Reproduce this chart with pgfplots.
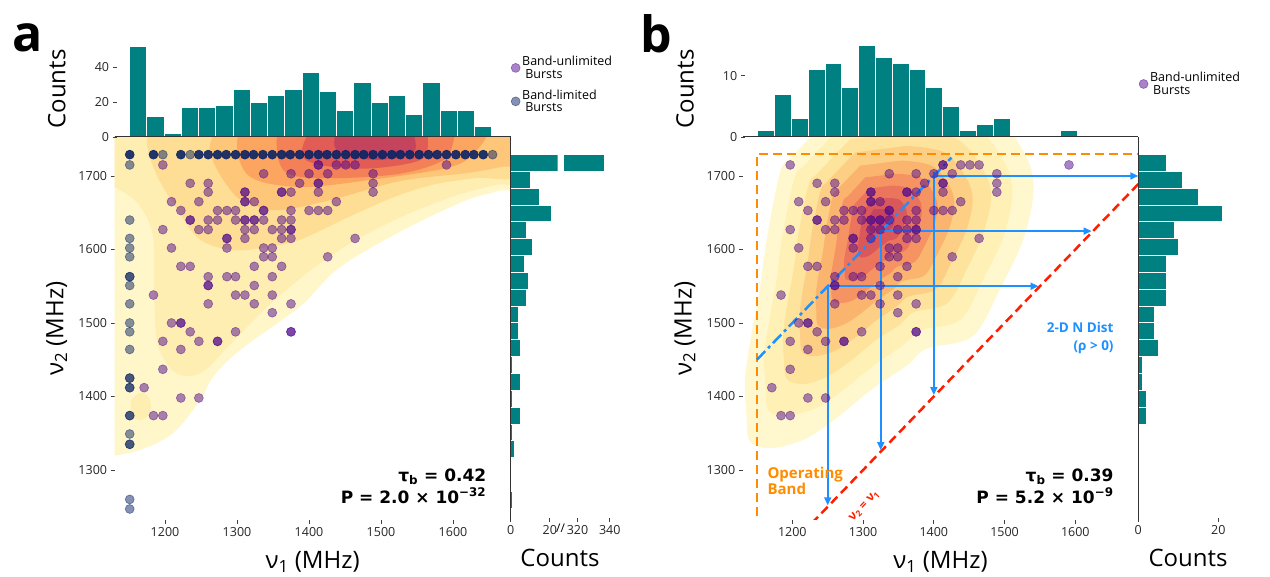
\documentclass[border=0pt]{standalone}
\usepackage{fontspec}
\setmainfont{Open Sans}
\newfontfamily\djv{DejaVu Sans}
\usepackage{pgfplots}
\usepackage{pgfplotstable}
\pgfplotsset{compat=1.18}
\usetikzlibrary{arrows.meta}

\definecolor{histc}{RGB}{0,128,128}
\definecolor{unl}{RGB}{80,10,140}
\definecolor{lim}{RGB}{10,35,100}
\definecolor{band}{RGB}{255,140,0}
\definecolor{diag}{RGB}{255,30,0}
\definecolor{dodger}{RGB}{30,144,255}
% kde levels, panel a
\definecolor{ka1}{RGB}{255,247,202}
\definecolor{ka2}{RGB}{255,238,178}
\definecolor{ka3}{RGB}{254,222,148}
\definecolor{ka4}{RGB}{253,198,120}
\definecolor{ka5}{RGB}{251,165,97}
\definecolor{ka6}{RGB}{243,128,86}
\definecolor{ka7}{RGB}{225,92,84}
\definecolor{ka8}{RGB}{196,68,94}
% kde levels, panel b
\definecolor{kb1}{RGB}{255,248,206}
\definecolor{kb2}{RGB}{255,240,182}
\definecolor{kb3}{RGB}{254,227,157}
\definecolor{kb4}{RGB}{253,207,132}
\definecolor{kb5}{RGB}{251,180,110}
\definecolor{kb6}{RGB}{246,147,98}
\definecolor{kb7}{RGB}{235,116,92}
\definecolor{kb8}{RGB}{218,88,90}
\definecolor{kb9}{RGB}{198,68,96}

\newcommand{\fs}[1]{\fontsize{#1bp}{#1bp}\selectfont}

% band-unlimited bursts (nu1, nu2), repeated rows = overlapping bursts
\pgfplotstableread{
x y
1197 1715
1413 1715
1413 1715
1438 1715
1451 1715
1464 1715
1591 1715
1337 1703
1375 1703
1400 1703
1426 1703
1489 1703
1235 1690
1260 1690
1387 1690
1413 1690
1413 1690
1489 1690
1260 1678
1311 1678
1311 1678
1362 1678
1362 1678
1375 1678
1413 1678
1489 1678
1209 1665
1247 1665
1311 1665
1311 1665
1324 1665
1438 1665
1222 1653
1273 1653
1286 1653
1298 1653
1337 1653
1337 1653
1375 1653
1400 1653
1413 1653
1426 1653
1235 1640
1235 1640
1260 1640
1273 1640
1298 1640
1311 1640
1311 1640
1324 1640
1324 1640
1337 1640
1362 1640
1375 1640
1197 1627
1247 1627
1260 1627
1311 1627
1324 1627
1349 1627
1362 1627
1375 1627
1375 1627
1286 1615
1286 1615
1311 1615
1362 1615
1375 1615
1464 1615
1209 1602
1286 1602
1337 1602
1349 1602
1337 1590
1349 1590
1426 1590
1222 1577
1235 1577
1324 1577
1362 1577
1260 1563
1286 1563
1298 1563
1349 1563
1260 1551
1260 1551
1324 1551
1184 1538
1298 1538
1311 1538
1349 1538
1260 1526
1324 1526
1375 1526
1349 1514
1209 1500
1222 1500
1222 1500
1235 1488
1298 1488
1375 1488
1375 1488
1197 1475
1247 1475
1273 1475
1273 1475
1222 1464
1197 1437
1171 1412
1222 1398
1247 1398
1184 1374
1197 1374
}\unltab

% band-limited bursts
\pgfplotstableread{
x y
1151 1715
1151 1640
1151 1615
1151 1602
1151 1590
1151 1563
1151 1563
1151 1551
1151 1526
1151 1500
1151 1488
1151 1464
1151 1425
1151 1425
1151 1412
1151 1412
1151 1374
1151 1374
1151 1349
1151 1335
1151 1335
1151 1260
1151 1247
1197 1729
1235 1729
1655 1729
}\limtab

% band-limited bursts stacked at the top of the band
\pgfplotstableread{
x y
1151 1729
1184 1729
1222 1729
1247 1729
1260 1729
1273 1729
1285 1729
1298 1729
1311 1729
1323 1729
1336 1729
1349 1729
1362 1729
1374 1729
1387 1729
1400 1729
1413 1729
1425 1729
1438 1729
1451 1729
1464 1729
1476 1729
1489 1729
1502 1729
1515 1729
1527 1729
1540 1729
1553 1729
1566 1729
1578 1729
1591 1729
1604 1729
1617 1729
1629 1729
1642 1729
}\densetab

\pgfplotsset{
  every axis/.append style={
    scale only axis,
    /pgf/number format/assume math mode=true,
    /pgf/number format/1000 sep={},
    tick label style={font=\fs{12.5}, text=black!85},
    tick style={black!75, line width=0.8bp},
    major tick length=4bp,
    tick align=outside,
    label style={font=\fs{24}},
  },
  mainax/.style={
    height=383bp, ymin=1232, ymax=1753, xmin=1130,
    axis line style={draw=none}, xtick pos=left, ytick pos=left,
    xtick={1200,1300,1400,1500,1600}, ytick={1300,1400,1500,1600,1700},
    xlabel={ν\textsubscript{1} (MHz)}, ylabel={ν\textsubscript{2} (MHz)},
    xlabel style={at={(axis description cs:0.5,-0.11)}, anchor=center},
    ylabel style={at={(axis description cs:-0.146,0.5)}, anchor=center},
    legend cell align=left,
    legend style={draw=none, fill=none, anchor=north west, font=\fs{12.5},
      cells={align=left}, row sep=6bp,
      /tikz/every even column/.append style={column sep=8bp}},
  },
  tophist/.style={
    height=96bp, ymin=0, axis on top,
    axis x line=bottom, axis y line=left,
    x axis line style={-, line width=1bp, black!80},
    y axis line style={draw=none},
    xtick=\empty, ylabel={Counts},
    ylabel style={at={(axis description cs:-0.146,0.5)}, anchor=center},
  },
  sidehist/.style={
    height=383bp, ymin=1232, ymax=1753, axis on top,
    axis x line=bottom, axis y line=left,
    x axis line style={draw=none},
    y axis line style={-, line width=1bp, black!80},
    ytick=\empty,
  },
  kde/.style={fill=#1, draw=none, forget plot, smooth, tension=0.55},
  unlsty/.style={only marks, mark=*, mark size=4.5bp, color=unl, mark options={fill=unl, draw=unl, line width=0.6bp, opacity=0.5}},
  limsty/.style={only marks, mark=*, mark size=4.5bp, color=lim, mark options={fill=lim, draw=lim, line width=0.6bp, opacity=0.5}},
  densesty/.style={only marks, mark=*, mark size=4.5bp, color=lim, mark options={fill=lim, draw=lim, line width=0.6bp, opacity=0.9}},
  hbar/.style={fill=histc, draw=white, line width=1bp},
  arr/.style={dodger, line width=1.6bp, -{Triangle[length=8bp,width=7bp]}, forget plot},
}

\begin{document}
\begin{tikzpicture}
\path[use as bounding box] (0,0) rectangle (1270bp,577bp);

% ================= panel a =================
\begin{axis}[mainax, at={(114.6bp,57bp)}, anchor=south west, width=396bp, xmax=1680,
  legend style={at={(0.9934,1.222)}}]
\addplot[kde=ka1] coordinates {(1120,1318) (1165,1327) (1211,1350) (1249,1395) (1267,1427) (1304,1463) (1387,1522) (1433,1568) (1480,1599) (1550,1636) (1619,1667) (1665,1680) (1700,1690) (1700,1800) (1120,1800)};
\addplot[kde=ka2] coordinates {(1120,1690) (1160,1665) (1183,1620) (1185,1540) (1190,1470) (1215,1432) (1250,1432) (1290,1470) (1340,1520) (1400,1570) (1460,1610) (1530,1645) (1600,1672) (1660,1688) (1700,1696) (1700,1800) (1120,1800)};
\addplot[kde=ka2] coordinates {(1152,1372) (1168,1368) (1180,1380) (1178,1398) (1165,1405) (1153,1395)};
\addplot[kde=ka3] coordinates {(1180,1800) (1175,1745) (1189,1700) (1220,1650) (1249,1613) (1294,1599) (1340,1603) (1387,1613) (1457,1645) (1520,1672) (1572,1688) (1630,1697) (1700,1704) (1700,1800)};
\addplot[kde=ka4] coordinates {(1300,1800) (1262,1740) (1294,1677) (1330,1658) (1364,1654) (1433,1668) (1526,1693) (1619,1704) (1665,1712) (1700,1722) (1700,1800)};
\addplot[kde=ka5] coordinates {(1320,1800) (1300,1745) (1318,1699) (1387,1685) (1480,1694) (1596,1712) (1633,1735) (1655,1770) (1660,1800)};
\addplot[kde=ka6] coordinates {(1365,1800) (1355,1745) (1369,1704) (1433,1697) (1526,1703) (1586,1721) (1600,1745) (1610,1800)};
\addplot[kde=ka7] coordinates {(1420,1800) (1390,1735) (1411,1716) (1480,1710) (1550,1720) (1565,1740) (1560,1800)};
\addplot[kde=ka8] coordinates {(1450,1800) (1435,1745) (1452,1728) (1500,1722) (1545,1732) (1545,1760) (1535,1800)};

\addplot[unlsty] table {\unltab};
\addlegendentry{Band-unlimited\\\hspace{0.25em}Bursts}
\addplot[limsty] table {\limtab};
\addlegendentry{Band-limited\\\hspace{0.25em}Bursts}
\addplot[densesty, forget plot] table {\densetab};

\node[anchor=base east, font=\djv\bfseries\fs{17}] at (axis cs:1651,1284) {τ\textsubscript{b} = 0.42};
\node[anchor=base east, font=\djv\bfseries\fs{17}] at (axis cs:1651,1255) {P = 2.0 × 10\textsuperscript{−32}};
\end{axis}

\begin{axis}[tophist, at={(114.6bp,440bp)}, anchor=south west, width=396bp,
  xmin=1130, xmax=1680, ymax=55, ytick={0,20,40}]
\addplot[hbar, ybar interval] coordinates {(1151,52) (1174.95,12) (1198.9,2) (1222.86,17) (1246.81,17) (1270.76,18) (1294.71,27) (1318.67,20) (1342.62,24) (1366.57,27) (1390.52,37) (1414.47,26) (1438.43,15) (1462.38,31) (1486.33,20) (1510.28,24) (1534.24,13) (1558.19,31) (1582.14,15) (1606.09,15) (1630.05,6) (1654,6)};
\end{axis}

% broken count axis: 0-24 and 311-342
\begin{axis}[sidehist, at={(510.6bp,57bp)}, anchor=south west, width=47bp,
  xmin=0, xmax=24, xtick={0,20}]
\addplot[hbar, xbar interval] coordinates {(1,1248) (0,1270.9) (0,1293.8) (2,1316.7) (1,1339.6) (5,1362.5) (1,1385.4) (5,1408.3) (1,1431.2) (5,1454.1) (4,1477) (4,1500) (8,1522.9) (9,1545.8) (7,1568.7) (11,1591.6) (8,1614.5) (21,1637.4) (15,1660.3) (10,1683.2) (337,1706.1) (337,1729)};
\end{axis}
\begin{axis}[sidehist, at={(563bp,57bp)}, anchor=south west, width=50bp,
  xmin=311, xmax=342, xtick={320,340}, y axis line style={draw=none}]
\addplot[hbar, xbar interval] coordinates {(10,1683.2) (337,1706.1) (337,1729)};
\end{axis}
\node[font=\fs{12}] at (560.5bp,49bp) {//};
\node[font=\fs{24}] at (560bp,19bp) {Counts};
\node[anchor=base west, font=\bfseries\fs{50}] at (9bp,525bp) {a};

% ================= panel b =================
\begin{axis}[mainax, at={(742.8bp,57bp)}, anchor=south west, width=395.5bp, xmax=1689,
  legend style={at={(0.994,1.18)}}]
\addplot[kde=kb1] coordinates {(1265,1792) (1200,1727) (1183,1706) (1164,1615) (1154,1547) (1140,1472) (1133,1422) (1135,1379) (1140,1339) (1173,1330) (1220,1343) (1267,1374) (1314,1411) (1362,1442) (1390,1465) (1455,1482) (1494,1547) (1527,1615) (1541,1683) (1527,1733) (1475,1792) (1385,1807)};
\addplot[kde=kb2] coordinates {(1273,1771) (1217,1715) (1203,1697) (1186,1619) (1178,1560) (1166,1496) (1160,1453) (1162,1416) (1166,1381) (1194,1374) (1235,1385) (1275,1411) (1316,1443) (1357,1470) (1381,1490) (1437,1504) (1470,1560) (1499,1619) (1511,1677) (1499,1720) (1454,1771) (1377,1784)};
\addplot[kde=kb3] coordinates {(1282,1750) (1235,1703) (1223,1688) (1209,1623) (1202,1574) (1192,1520) (1187,1484) (1188,1453) (1192,1424) (1216,1417) (1249,1427) (1283,1449) (1317,1476) (1352,1498) (1372,1515) (1419,1527) (1447,1574) (1470,1623) (1481,1672) (1470,1708) (1433,1750) (1368,1761)};
\addplot[kde=kb4] coordinates {(1289,1732) (1250,1693) (1240,1680) (1228,1626) (1222,1585) (1214,1540) (1210,1510) (1211,1484) (1214,1460) (1234,1455) (1262,1463) (1290,1481) (1318,1503) (1347,1522) (1364,1536) (1403,1546) (1426,1585) (1446,1626) (1455,1667) (1446,1697) (1415,1732) (1361,1741)};
\addplot[kde=kb5] coordinates {(1296,1714) (1265,1683) (1257,1673) (1248,1629) (1243,1596) (1236,1560) (1233,1536) (1234,1516) (1236,1497) (1252,1492) (1275,1499) (1297,1513) (1320,1531) (1343,1546) (1356,1557) (1387,1565) (1406,1596) (1422,1629) (1429,1662) (1422,1686) (1397,1714) (1354,1721)};
\addplot[kde=kb6] coordinates {(1303,1698) (1279,1673) (1272,1666) (1265,1632) (1262,1607) (1257,1579) (1254,1561) (1255,1545) (1257,1530) (1269,1527) (1286,1531) (1304,1543) (1321,1557) (1339,1568) (1349,1577) (1373,1583) (1388,1607) (1400,1632) (1405,1657) (1400,1676) (1381,1698) (1347,1703)};
\addplot[kde=kb7] coordinates {(1309,1683) (1291,1665) (1287,1659) (1282,1635) (1279,1616) (1275,1596) (1273,1583) (1274,1571) (1275,1560) (1284,1558) (1297,1561) (1309,1570) (1322,1580) (1335,1588) (1343,1594) (1360,1599) (1371,1616) (1380,1635) (1383,1653) (1380,1667) (1366,1683) (1341,1687)};
\addplot[kde=kb8] coordinates {(1315,1668) (1304,1657) (1301,1653) (1298,1637) (1296,1626) (1294,1613) (1292,1605) (1293,1597) (1294,1591) (1299,1589) (1307,1591) (1315,1596) (1323,1603) (1331,1608) (1336,1612) (1347,1615) (1354,1626) (1359,1637) (1362,1649) (1359,1658) (1351,1668) (1335,1670)};
\addplot[kde=kb9] coordinates {(1315,1655) (1308,1640) (1310,1625) (1325,1621) (1340,1629) (1345,1644) (1335,1655)};

\addplot[unlsty] table {\unltab};
\addlegendentry{Band-unlimited\\\hspace{0.25em}Bursts}

% operating band, identity line, 2-D normal construction
\addplot[band, line width=2.5bp, dash pattern=on 9bp off 5bp, forget plot] coordinates {(1150,1200) (1150,1730) (1700,1730)};
\addplot[diag, line width=2.5bp, dash pattern=on 9bp off 5bp, forget plot] coordinates {(1200,1200) (1700,1700)};
\addplot[dodger, line width=2.5bp, dash pattern=on 12bp off 4bp on 3bp off 4bp, forget plot] coordinates {(1150,1450) (1425,1725)};
\addplot[arr] coordinates {(1250,1550) (1250,1252)};
\addplot[arr] coordinates {(1250,1550) (1548,1550)};
\addplot[arr] coordinates {(1325,1625) (1325,1327)};
\addplot[arr] coordinates {(1325,1625) (1623,1625)};
\addplot[arr] coordinates {(1400,1706) (1400,1402)};
\addplot[arr] coordinates {(1400,1700) (1689,1700)};

\node[anchor=base east, text=dodger, font=\bfseries\fs{13.5}] at (axis cs:1659,1487) {2-D N Dist};
\node[anchor=base east, text=dodger, font=\bfseries\fs{13.5}] at (axis cs:1659,1463) {(ρ > 0)};
\node[anchor=base west, text=band, font=\bfseries\fs{15}] at (axis cs:1160,1289) {Operating};
\node[anchor=base west, text=band, font=\bfseries\fs{15}] at (axis cs:1160,1267) {Band};
\node[rotate=46, text=diag, font=\bfseries\fs{12}, inner sep=0pt] at (axis cs:1302,1251) {ν\textsubscript{2} = ν\textsubscript{1}};
\node[anchor=base east, font=\djv\bfseries\fs{17}] at (axis cs:1659,1284) {τ\textsubscript{b} = 0.39};
\node[anchor=base east, font=\djv\bfseries\fs{17}] at (axis cs:1659,1255) {P = 5.2 × 10\textsuperscript{−9}};
\end{axis}

\begin{axis}[tophist, at={(742.8bp,440bp)}, anchor=south west, width=395.5bp,
  xmin=1130, xmax=1689, ymax=15.66, ytick={0,10}]
\addplot[hbar, ybar interval] coordinates {(1151,1) (1174.8,7) (1198.6,3) (1222.4,11) (1246.2,12) (1270,8) (1293.7,15) (1317.5,13) (1341.3,12) (1365.1,11) (1388.9,8) (1412.7,5) (1436.5,1) (1460.3,2) (1484.1,3) (1507.9,0) (1531.7,0) (1555.4,0) (1579.2,1) (1603,1)};
\end{axis}

\begin{axis}[sidehist, at={(1138.3bp,57bp)}, anchor=south west, width=88bp,
  xmin=0, xmax=22, xtick={0,20}]
\addplot[hbar, xbar interval] coordinates {(2,1362.5) (2,1385.4) (1,1408.3) (1,1431.2) (5,1454.1) (4,1477) (4,1500) (7,1522.9) (7,1545.8) (7,1568.7) (10,1591.6) (9,1614.5) (21,1637.4) (15,1660.3) (11,1683.2) (7,1706.1) (7,1729)};
\end{axis}
\node[font=\fs{24}] at (1188bp,19bp) {Counts};
\node[anchor=base west, font=\bfseries\fs{50}] at (637bp,524bp) {b};
\end{tikzpicture}
\end{document}
